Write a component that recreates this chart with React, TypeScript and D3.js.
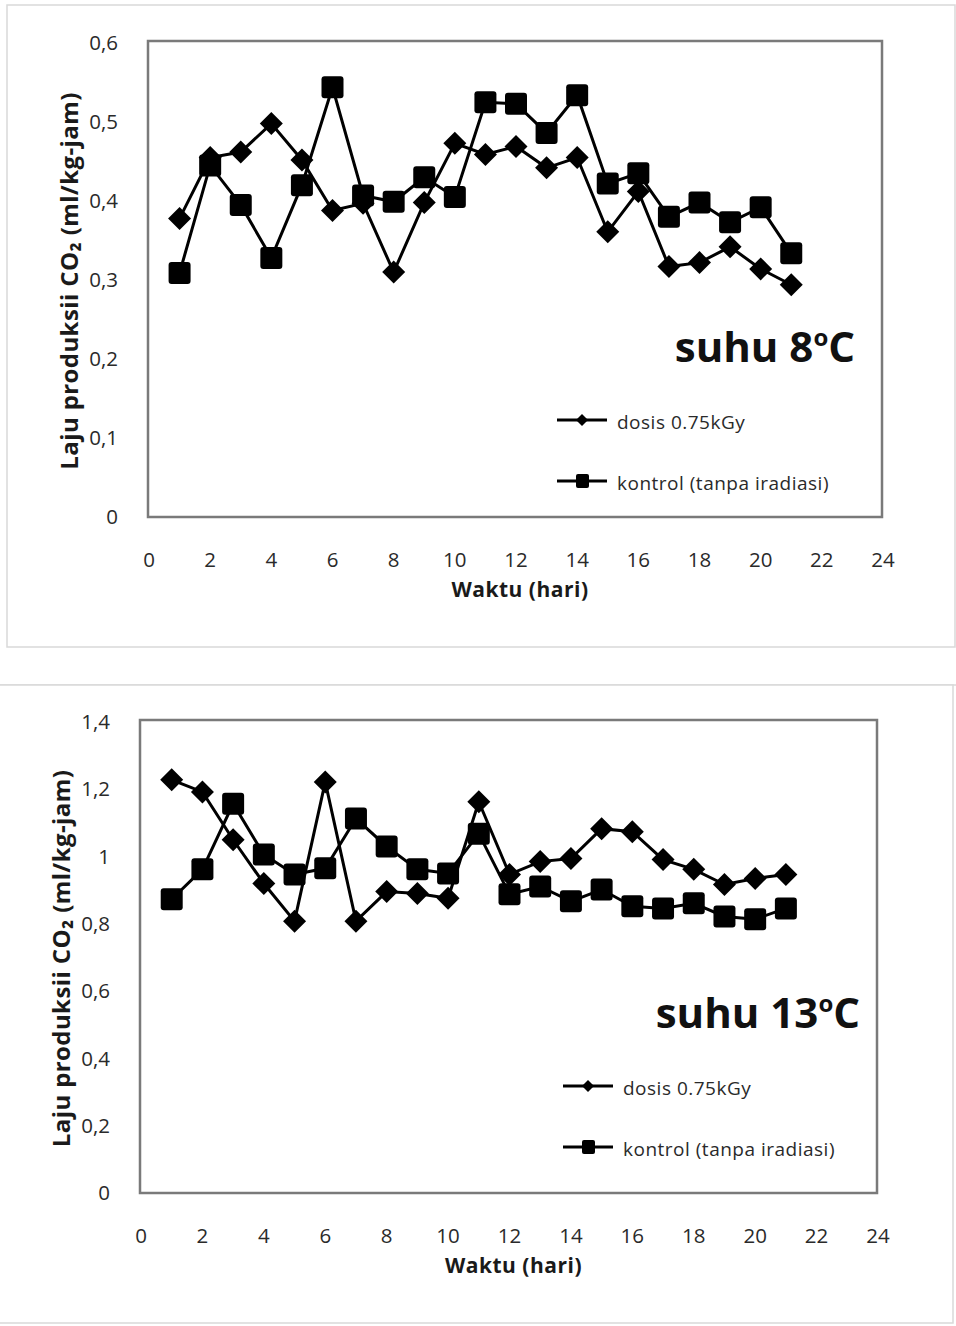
import * as d3 from "d3";

const days = [1, 2, 3, 4, 5, 6, 7, 8, 9, 10, 11, 12, 13, 14, 15, 16, 17, 18, 19, 20, 21];

// suhu 8°C
const dosis8 = [0.378, 0.455, 0.462, 0.498, 0.452, 0.388, 0.397, 0.31, 0.398, 0.473, 0.459, 0.469, 0.442, 0.455, 0.361, 0.412, 0.317, 0.322, 0.342, 0.314, 0.294];
const kontrol8 = [0.309, 0.445, 0.395, 0.328, 0.42, 0.544, 0.407, 0.399, 0.43, 0.405, 0.525, 0.523, 0.486, 0.534, 0.422, 0.435, 0.38, 0.398, 0.373, 0.392, 0.334];

// suhu 13°C
const dosis13 = [1.228, 1.192, 1.05, 0.92, 0.808, 1.222, 0.808, 0.896, 0.89, 0.876, 1.163, 0.947, 0.985, 0.994, 1.083, 1.074, 0.991, 0.962, 0.917, 0.935, 0.947];
const kontrol13 = [0.873, 0.962, 1.157, 1.006, 0.947, 0.965, 1.113, 1.03, 0.962, 0.95, 1.068, 0.888, 0.911, 0.867, 0.902, 0.852, 0.846, 0.861, 0.822, 0.814, 0.846];

const xTicks = [0, 2, 4, 6, 8, 10, 12, 14, 16, 18, 20, 22, 24];
const yTicks8 = [0, 0.1, 0.2, 0.3, 0.4, 0.5, 0.6];
const yTicks13 = [0, 0.2, 0.4, 0.6, 0.8, 1, 1.2, 1.4];

const legendLabels = ["dosis 0.75kGy", "kontrol (tanpa iradiasi)"];
const yTitle = "Laju produksii CO\u2082 (ml/kg-jam)";
const xTitle = "Waktu (hari)";

const FONT = "'Open Sans', 'Noto Sans', sans-serif";
const fmt = (v) => String(v).replace(".", ",");

const diamondPath = (r) => `M0,${-r}L${r},0L0,${r}L${-r},0Z`;

function Panel({ frame, yMax, yTicks, dosis, kontrol, temp, tempPos, legendPos, titleX, box }) {
  const x = d3.scaleLinear().domain([0, 24]).range([frame.left + 1, frame.right + 1]);
  const y = d3.scaleLinear().domain([0, yMax]).range([frame.bottom, frame.top + 2]);
  const line = d3
    .line()
    .x((d) => x(d[0]))
    .y((d) => y(d[1]));
  const dPts = days.map((d, i) => [d, dosis[i]]);
  const kPts = days.map((d, i) => [d, kontrol[i]]);
  const midY = (frame.top + frame.bottom) / 2;
  const midX = (frame.left + frame.right) / 2 + 5;

  return (
    <g>
      <rect x={box.x} y={box.y} width={box.w} height={box.h} fill="#fff" stroke="#d9d9d9" strokeWidth={1.5} />
      <rect
        x={frame.left}
        y={frame.top}
        width={frame.right - frame.left}
        height={frame.bottom - frame.top}
        fill="#fff"
        stroke="#7a7a7a"
        strokeWidth={2.5}
      />
      {yTicks.map((t) => (
        <text key={t} x={frame.left - 30} y={y(t)} dy="0.35em" textAnchor="end" fontSize={20.5} fill="#2a2a2a" fontFamily={FONT}>
          {fmt(t)}
        </text>
      ))}
      {xTicks.map((t) => (
        <text key={t} x={x(t)} y={frame.bottom + 43} dy="0.35em" textAnchor="middle" fontSize={20.5} fill="#2a2a2a" fontFamily={FONT}>
          {t}
        </text>
      ))}
      <text
        x={midX}
        y={frame.bottom + 73}
        dy="0.35em"
        textAnchor="middle"
        fontSize={21}
        letterSpacing={0.5}
        fontWeight="bold"
        fill="#1a1a1a"
        fontFamily={FONT}
      >
        {xTitle}
      </text>
      <text
        transform={`translate(${titleX},${midY + 2}) rotate(-90)`}
        textAnchor="middle"
        dy="0.35em"
        fontSize={24}
        letterSpacing={0.4}
        fontWeight="bold"
        fill="#1a1a1a"
        fontFamily={FONT}
      >
        {yTitle}
      </text>

      <path d={line(dPts)} fill="none" stroke="#000" strokeWidth={3} />
      {dPts.map((p, i) => (
        <path key={"d" + i} d={diamondPath(11.5)} transform={`translate(${x(p[0])},${y(p[1])})`} fill="#000" />
      ))}
      <path d={line(kPts)} fill="none" stroke="#000" strokeWidth={3} />
      {kPts.map((p, i) => (
        <rect key={"k" + i} x={x(p[0]) - 11} y={y(p[1]) - 11} width={22} height={22} rx={3} fill="#000" />
      ))}

      <text x={tempPos.x} y={tempPos.y} textAnchor="end" fontSize={42} fontWeight="bold" fill="#111" fontFamily={FONT}>
        {temp}
        <tspan fontSize={24} dy={-16}>o</tspan>
        <tspan dy={16}>C</tspan>
      </text>

      {legendLabels.map((label, i) => {
        const ly = legendPos.y + i * 61;
        return (
          <g key={label}>
            <line x1={legendPos.x} x2={legendPos.x + 50} y1={ly} y2={ly} stroke="#000" strokeWidth={3} />
            {i === 0 ? (
              <path d={diamondPath(6)} transform={`translate(${legendPos.x + 25},${ly})`} fill="#000" />
            ) : (
              <rect x={legendPos.x + 19} y={ly - 7} width={13} height={14} rx={2} fill="#000" />
            )}
            <text x={legendPos.x + 60} y={ly + 2} dy="0.35em" fontSize={19} letterSpacing={0.5} fill="#2a2a2a" fontFamily={FONT}>
              {label}
            </text>
          </g>
        );
      })}
    </g>
  );
}

export default function App() {
  return (
    <svg width={956} height={1326} style={{ position: "absolute", left: 0, top: 0, display: "block" }}>
      <rect width={956} height={1326} fill="#fff" />
      <Panel
        box={{ x: 7, y: 5, w: 948, h: 642 }}
        frame={{ left: 148, top: 41, right: 882, bottom: 517 }}
        yMax={0.6}
        yTicks={yTicks8}
        dosis={dosis8}
        kontrol={kontrol8}
        temp="suhu 8"
        tempPos={{ x: 855, y: 362 }}
        legendPos={{ x: 557, y: 420 }}
        titleX={70}
      />
      <line x1={0} x2={956} y1={685} y2={685} stroke="#d9d9d9" strokeWidth={1.5} />
      <Panel
        box={{ x: -2, y: 685, w: 955, h: 638 }}
        frame={{ left: 140, top: 720, right: 877, bottom: 1193 }}
        yMax={1.4}
        yTicks={yTicks13}
        dosis={dosis13}
        kontrol={kontrol13}
        temp="suhu 13"
        tempPos={{ x: 860, y: 1028 }}
        legendPos={{ x: 563, y: 1086 }}
        titleX={62}
      />
    </svg>
  );
}
